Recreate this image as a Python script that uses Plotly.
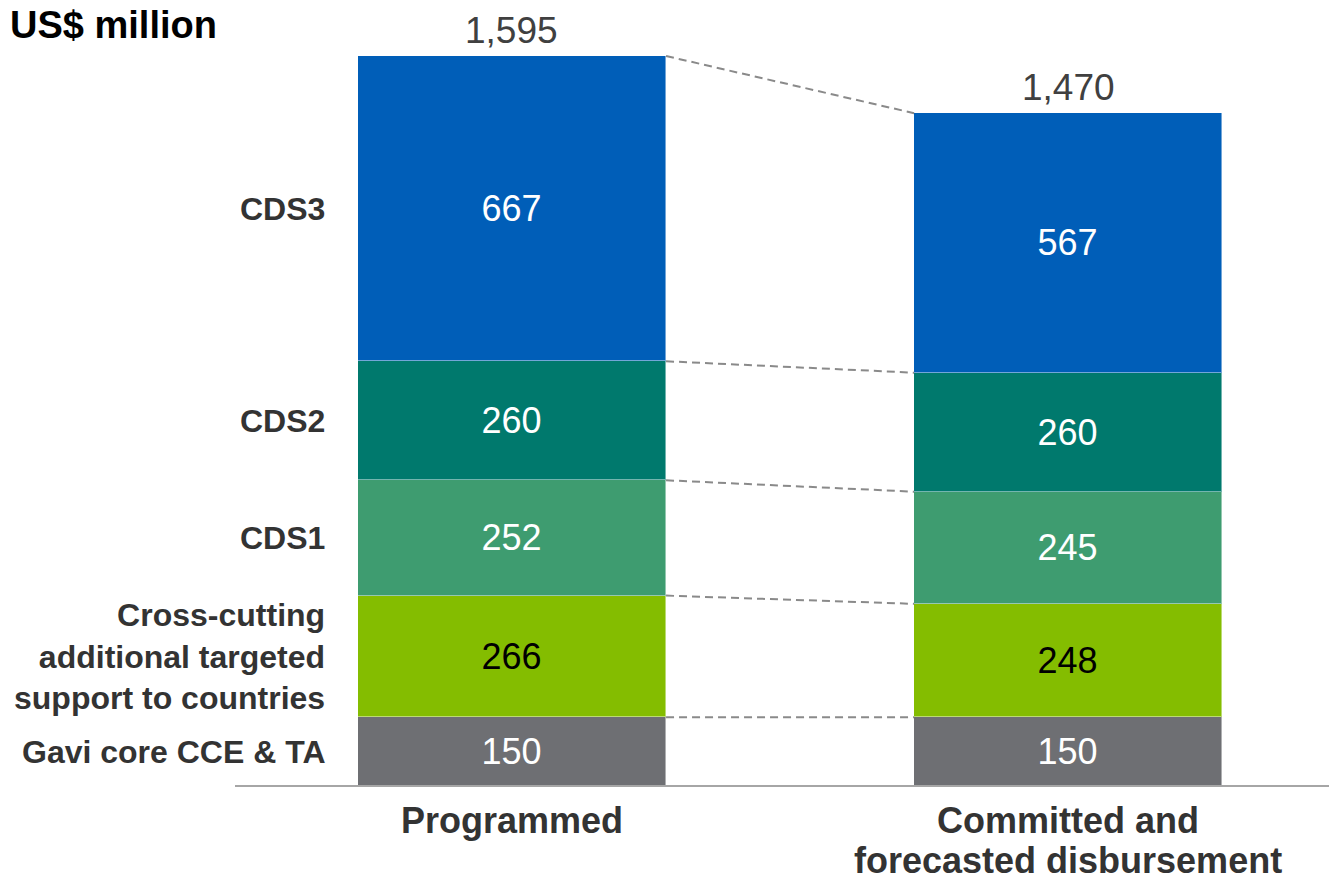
import plotly.graph_objects as go

categories = ["Programmed", "Committed and<br>forecasted disbursement"]
segments = ["Gavi core CCE & TA", "Cross-cutting<br>additional targeted<br>support to countries", "CDS1", "CDS2", "CDS3"]
programmed = [150, 266, 252, 260, 667]
committed = [150, 248, 245, 260, 567]
totals = [1595, 1470]
total_labels = ["1,595", "1,470"]

colors = ["#6E6F73", "#84BD00", "#3E9C70", "#00796D", "#005EB8"]
text_colors = ["white", "black", "white", "white", "white"]

xpos = [0, 1]
bw = 0.554
FONT = "Liberation Sans, Arial, sans-serif"

W, H = 1329, 882

fig = go.Figure()
for i, seg in enumerate(segments):
    vals = [programmed[i], committed[i]]
    fig.add_trace(go.Bar(
        x=xpos, y=vals, width=bw,
        marker=dict(color=colors[i], line=dict(color="rgba(255,255,255,0.45)", width=1)),
        text=[str(v) for v in vals], textposition="inside", insidetextanchor="middle",
        textangle=0, textfont=dict(family=FONT, size=36, color=text_colors[i]),
        hoverinfo="skip", showlegend=False,
    ))

# dashed connectors
cumL, cumR = 0, 0
for i in range(len(segments)):
    cumL += programmed[i]
    cumR += committed[i]
    fig.add_trace(go.Scatter(
        x=[xpos[0] + bw / 2, xpos[1] - bw / 2], y=[cumL, cumR], mode="lines",
        line=dict(color="#8A8A8A", width=2, dash="8px,5px"),
        hoverinfo="skip", showlegend=False, cliponaxis=False,
    ))

annotations = []
# totals
for x, t, lab in zip(xpos, totals, total_labels):
    annotations.append(dict(x=x, y=t, xref="x", yref="y", text=lab, showarrow=False,
                            yshift=26, yanchor="middle",
                            font=dict(family=FONT, size=37, color="#404040")))
# segment labels (left)
cum = 0
for seg, v in zip(segments, programmed):
    annotations.append(dict(x=xpos[0] - bw / 2, y=cum + v / 2, xref="x", yref="y", text=seg,
                            showarrow=False, xanchor="right", yanchor="middle", align="right",
                            xshift=-31,
                            font=dict(family=FONT, size=32, color="#333333", weight="bold")))
    cum += v
# category labels, one annotation per line
for x, c in zip(xpos, categories):
    for j, line in enumerate(c.split("<br>")):
        annotations.append(dict(x=x, y=0, xref="x", yref="paper", text=line, showarrow=False,
                                yanchor="middle", yshift=-34 - j * 40, align="center",
                                font=dict(family=FONT, size=36, color="#333333", weight="bold")))

fig.update_layout(
    width=W, height=H,
    margin=dict(l=235, r=0, t=0, b=96),
    barmode="stack", bargap=0,
    plot_bgcolor="white", paper_bgcolor="white",
    title=dict(text="<b>US$ million</b>", x=10 / W, xanchor="left", xref="container",
               y=1 - 25 / H, yanchor="middle", yref="container",
               font=dict(family=FONT, size=38, color="black")),
    xaxis=dict(range=[-0.498, 1.469], showgrid=False, zeroline=False, showticklabels=False,
               showline=False, fixedrange=True),
    yaxis=dict(range=[0, 786 / (730 / 1595)], showgrid=False, zeroline=False, showticklabels=False,
               showline=False, fixedrange=True),
    annotations=annotations,
    hovermode=False,
    shapes=[dict(type="line", xref="paper", yref="paper", x0=0, x1=1, y0=0, y1=0,
                 line=dict(color="#A6A6A6", width=2))],
)

fig.write_html("out.html", config={"displayModeBar": False},
               post_script="document.body.style.margin='0';document.body.style.overflow='hidden';")
